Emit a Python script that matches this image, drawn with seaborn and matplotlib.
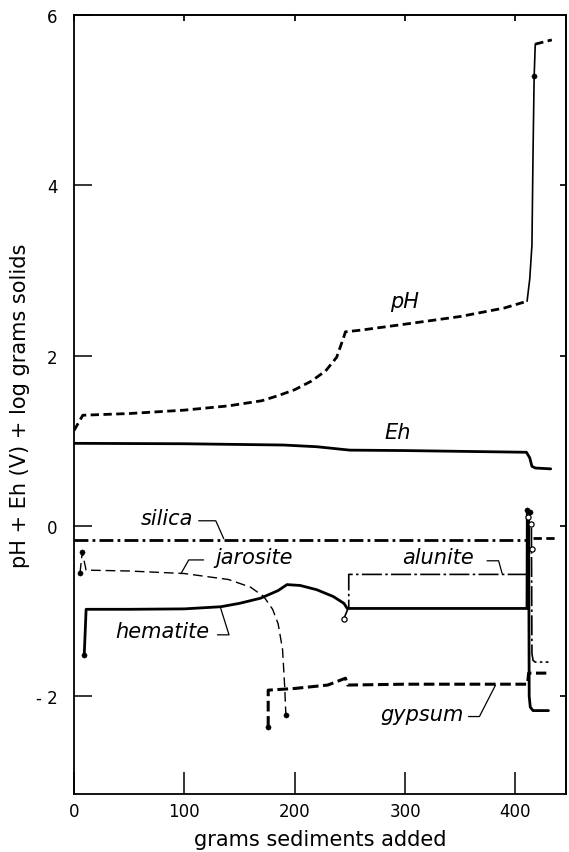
import numpy as np
import pandas as pd
import seaborn as sns
import matplotlib.pyplot as plt

# reaction path values
ph_x = [0, 8, 50, 100, 140, 170, 185, 200, 215, 228, 238, 244, 246, 260, 300, 350, 390, 410.6]
ph_y = [1.12, 1.30, 1.32, 1.36, 1.41, 1.47, 1.53, 1.60, 1.70, 1.82, 1.98, 2.20, 2.28, 2.30, 2.37, 2.46, 2.56, 2.64]
ph_jump_x = [410.6, 413, 415, 416, 417, 418]
ph_jump_y = [2.64, 2.90, 3.30, 4.40, 5.28, 5.66]
ph_end_x = [418, 433]
ph_end_y = [5.66, 5.71]

eh_x = [0, 100, 190, 220, 250, 300, 410, 413, 415, 418, 432]
eh_y = [0.97, 0.965, 0.95, 0.93, 0.89, 0.885, 0.865, 0.80, 0.70, 0.68, 0.67]

silica_x = [0, 411]
silica_y = [-0.16, -0.16]
silica_end_x = [416, 438]
silica_end_y = [-0.14, -0.14]

jarosite_x = [5.5, 7.5, 11, 50, 100, 140, 160, 172, 180, 185, 189, 191, 192]
jarosite_y = [-0.55, -0.31, -0.52, -0.53, -0.56, -0.63, -0.72, -0.83, -0.98, -1.15, -1.45, -1.90, -2.22]

hematite_x = [9.3, 11, 50, 100, 133, 150, 169, 185, 193, 205, 220, 235, 244.6, 247.6, 300, 410.5, 410.8, 412, 412.5, 413.5, 416, 430]
hematite_y = [-1.52, -0.98, -0.98, -0.975, -0.95, -0.91, -0.85, -0.76, -0.69, -0.70, -0.75, -0.83, -0.91, -0.97, -0.97, -0.97, 0.19, 0.15, -2.00, -2.13, -2.17, -2.17]

alunite_x = [244.6, 249, 249, 410.5, 411.5, 414.5, 415, 416, 418, 430]
alunite_y = [-1.09, -0.95, -0.57, -0.57, 0.10, 0.02, -1.50, -1.58, -1.60, -1.60]

gypsum_x = [176, 176, 200, 230, 246, 248, 300, 411, 412, 428]
gypsum_y = [-2.36, -1.93, -1.91, -1.87, -1.79, -1.87, -1.86, -1.86, -1.73, -1.73]

filled_x = [5.5, 7.5, 9.3, 176, 192, 417, 410.8, 413]
filled_y = [-0.55, -0.31, -1.52, -2.36, -2.22, 5.28, 0.19, 0.16]
open_x = [244.6, 411.5, 414.5, 414.8]
open_y = [-1.09, 0.10, 0.02, -0.27]

sns.set_theme(style="ticks")
plt.rcParams['font.family'] = ['DejaVu Sans']
plt.rcParams.update({"text.color": "black", "axes.labelcolor": "black",
                     "xtick.color": "black", "ytick.color": "black"})

fig = plt.figure(figsize=(5.69, 8.53), dpi=100)
ax = fig.add_axes([0.130, 0.068, 0.865, 0.913])


def draw(xs, ys, lw, ls):
    df = pd.DataFrame({"x": xs, "y": ys})
    sns.lineplot(data=df, x="x", y="y", ax=ax, sort=False, estimator=None,
                 color="black", linewidth=lw, linestyle=ls)


draw(ph_x, ph_y, 2.0, (0, (3, 1.6)))
draw(ph_jump_x, ph_jump_y, 1.2, "-")
draw(ph_end_x, ph_end_y, 2.0, (0, (3, 1.6)))
draw(eh_x, eh_y, 2.0, "-")
draw(silica_x, silica_y, 2.0, (0, (5, 1.5, 1, 1.5)))
draw(silica_end_x, silica_end_y, 2.0, (0, (3, 1.6)))
draw(jarosite_x, jarosite_y, 1.0, (0, (7, 3.5)))
draw(hematite_x, hematite_y, 2.0, "-")
draw(alunite_x, alunite_y, 1.2, (0, (12, 2, 1.5, 2)))
draw(gypsum_x, gypsum_y, 2.2, (0, (3.5, 1.5)))

sns.scatterplot(x=filled_x, y=filled_y, ax=ax, color="black", s=14, edgecolor="black", zorder=5)
sns.scatterplot(x=open_x, y=open_y, ax=ax, color="white", s=14, edgecolor="black", linewidth=0.9, zorder=5)

# curve labels with leader lines
lab = dict(fontsize=15, style="italic", ha="center", va="center")
ax.text(299.5, 2.64, "pH", **lab)
ax.text(293.7, 1.10, "Eh", **lab)
ax.text(84, 0.09, "silica", **lab)
ax.text(163, -0.37, "jarosite", **lab)
ax.text(80, -1.23, "hematite", **lab)
ax.text(330, -0.37, "alunite", **lab)
ax.text(315, -2.21, "gypsum", **lab)
for lx, ly in [([113, 128.5, 135.7], [0.06, 0.06, -0.15]),
               ([117.5, 104, 97], [-0.40, -0.40, -0.56]),
               ([130, 140.5, 133], [-1.28, -1.28, -0.97]),
               ([374.3, 384.8, 388], [-0.41, -0.41, -0.56]),
               ([357.5, 367.4, 382], [-2.24, -2.24, -1.87])]:
    ax.plot(lx, ly, color="black", lw=0.9)

ax.set_xlim(0, 446)
ax.set_ylim(-3.15, 6)
ax.set_xticks([0, 100, 200, 300, 400])
ax.set_yticks([-2, 0, 2, 4, 6])
ax.set_yticklabels(["- 2", "0", "2", "4", "6"])
ax.tick_params(axis="y", direction="in", length=13, width=1.1, pad=12, labelsize=12)
ax.tick_params(axis="x", direction="in", length=16, width=1.1, pad=6, labelsize=12)
for s in ax.spines.values():
    s.set_color("black")
    s.set_linewidth(1.3)

top = ax.secondary_xaxis("top")
top.set_xticks([0, 100, 200, 300, 400])
top.tick_params(direction="in", length=4, labeltop=False)
right = ax.secondary_yaxis("right")
right.set_yticks([-2, 0, 2, 4])
right.tick_params(direction="in", length=4, labelright=False)

ax.set_xlabel("grams sediments added", fontsize=15, labelpad=6)
ax.set_ylabel("pH + Eh (V) + log grams solids", fontsize=15, labelpad=4)

fig.savefig("out.png", dpi=100)
